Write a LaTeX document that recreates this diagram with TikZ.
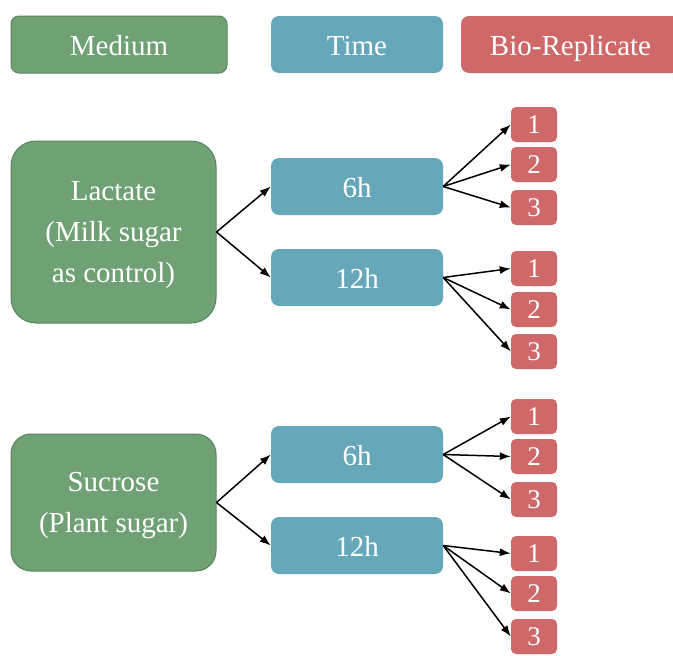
\documentclass[tikz,border=0pt]{standalone}
\usepackage{fontspec}
\setmainfont{Liberation Serif}
\usetikzlibrary{arrows.meta}
\definecolor{medfill}{RGB}{111,161,117}
\definecolor{medline}{RGB}{88,133,94}
\definecolor{timefill}{RGB}{102,168,186}
\definecolor{repfill}{RGB}{207,104,104}
\tikzset{
  box/.style={inner sep=0pt, text=white, align=center,
    font=\fontsize{29}{41}\selectfont},
  oneline/.style={text height=21pt, text depth=0pt},
  medbox/.style={box, fill=medfill, draw=medline, line width=1pt},
  timebox/.style={box, oneline, fill=timefill, rounded corners=8pt,
    minimum width=172pt, minimum height=57pt},
  repbox/.style={box, fill=repfill, rounded corners=5pt,
    minimum width=46pt, minimum height=35pt, font=\fontsize{27}{30}\selectfont,
    text height=17pt, text depth=0pt},
  link/.style={draw=black, line width=1.5pt, -{Latex[length=11pt,width=8pt]}}
}
\begin{document}
\begin{tikzpicture}[x=1pt,y=-1pt]
\clip (0,0) rectangle (673,656);
\useasboundingbox (0,0) rectangle (673,656);

% legend row
\node[medbox, oneline, rounded corners=8pt, minimum width=216pt, minimum height=57pt] (lgmed) at (119,44.5) {Medium};
\node[timebox] (lgtime) at (357,44.5) {Time};
\node[box, oneline, fill=repfill, rounded corners=8pt, minimum width=219pt, minimum height=57pt] (lgrep) at (570.5,44.5) {Bio-Replicate};

% media
\node[medbox, text depth=0pt, rounded corners=25pt, minimum width=205pt, minimum height=182pt] (lac) at (113.5,232) {Lactate\\(Milk sugar\\as control)};
\node[medbox, text depth=0pt, rounded corners=20pt, minimum width=205pt, minimum height=137pt] (suc) at (113.5,502.5) {Sucrose\\(Plant sugar)};

% time points
\node[timebox] (lac6) at (357,186.5) {6h};
\node[timebox] (lac12) at (357,277.5) {12h};
\node[timebox] (suc6) at (357,454.5) {6h};
\node[timebox] (suc12) at (357,545.5) {12h};

% replicates
\node[repbox] (lac6a) at (534,124.5) {1};
\node[repbox] (lac6b) at (534,164.5) {2};
\node[repbox] (lac6c) at (534,207.5) {3};
\node[repbox] (lac12a) at (534,268.5) {1};
\node[repbox] (lac12b) at (534,309.5) {2};
\node[repbox] (lac12c) at (534,351.5) {3};
\node[repbox] (suc6a) at (534,416.5) {1};
\node[repbox] (suc6b) at (534,456.5) {2};
\node[repbox] (suc6c) at (534,499.5) {3};
\node[repbox] (suc12a) at (534,553.5) {1};
\node[repbox] (suc12b) at (534,593.5) {2};
\node[repbox] (suc12c) at (534,636.5) {3};

% connectors
\foreach \m in {lac,suc}{
  \draw[link] (\m.east) -- (\m6.west);
  \draw[link] (\m.east) -- (\m12.west);
  \foreach \t in {6,12}{
    \foreach \r in {a,b,c}{
      \draw[link] (\m\t.east) -- (\m\t\r.west);
    }
  }
}
\end{tikzpicture}
\end{document}
